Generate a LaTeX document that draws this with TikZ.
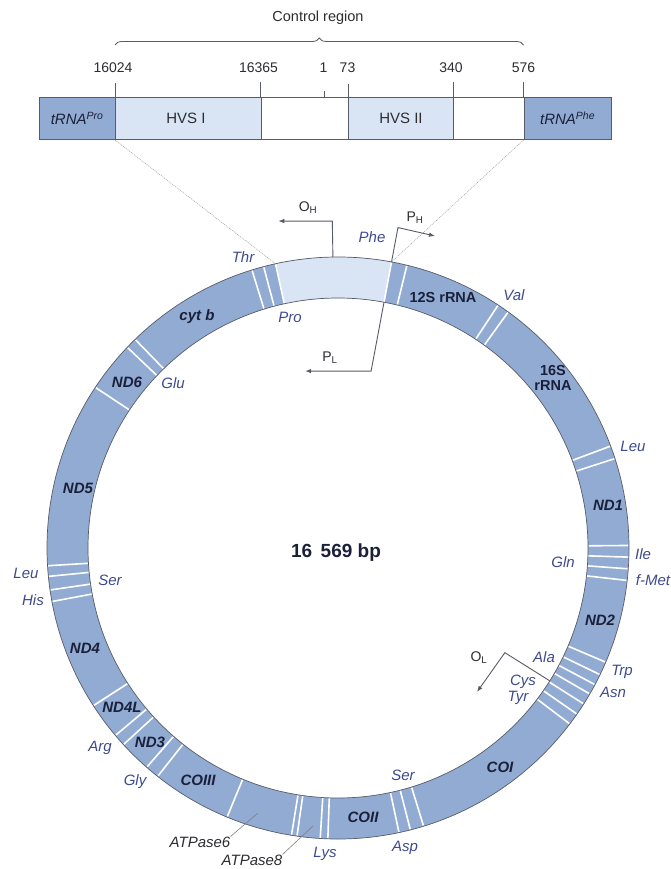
\documentclass[tikz,border=0pt]{standalone}
\usepackage{fontspec}
\setmainfont{Liberation Sans}
\usetikzlibrary{decorations.pathreplacing,arrows.meta,calc}
\definecolor{ringblue}{RGB}{146,171,211}
\definecolor{lightblue}{RGB}{217,229,245}
\definecolor{edgecol}{RGB}{88,92,104}
\definecolor{trnacol}{RGB}{62,74,142}
\definecolor{genecol}{RGB}{26,32,58}
\definecolor{txtcol}{RGB}{45,45,50}
\begin{document}
\begin{tikzpicture}[x=1pt,y=-1pt,
  trna/.style={font=\fontsize{15}{17}\selectfont\itshape, text=trnacol, inner sep=0pt},
  gene/.style={font=\fontsize{15}{17}\selectfont\bfseries\itshape, text=genecol, inner sep=0pt},
  rrna/.style={font=\fontsize{14.5}{16.5}\selectfont\bfseries, text=genecol, inner sep=0pt, align=center},
  plain/.style={font=\fontsize{14}{16}\selectfont, text=txtcol, inner sep=0pt},
  atp/.style={font=\fontsize{15}{17}\selectfont\itshape, text=txtcol, inner sep=0pt},
  segbox/.style={draw=edgecol, line width=0.7pt, anchor=north west, inner sep=0pt, minimum height=42.6pt},
  boxlabel/.style={font=\fontsize{15}{17}\selectfont, text=txtcol, inner sep=0pt},
  tick/.style={draw=edgecol, line width=0.7pt},
  conn/.style={draw=edgecol, line width=0.9pt},
  arr/.style={conn, -{Latex[length=6pt,width=4.5pt]}},
  zoomline/.style={draw=gray!80, line width=0.5pt, dash pattern=on 1pt off 1pt},
  pointer/.style={draw=gray, line width=0.6pt},
  sitelabel/.style={font=\fontsize{14}{16}\selectfont, text=txtcol, inner sep=0pt}
]
\useasboundingbox (0,0) rectangle (671,869);
\fill[white] (0,0) rectangle (671,869);

% ---------- linear map of the control region ----------
\node[plain, font=\fontsize{14.5}{16}\selectfont] (ctrl) at (318,18) {Control region};
\coordinate (brL) at (115,45);
\coordinate (brR) at (523.5,45);
\draw[edgecol, line width=0.8pt, decorate, decoration={brace, amplitude=7pt}] (brL) -- (brR);

\node[segbox, fill=ringblue, minimum width=76.5pt] (pro) at (38.5,96.7) {};
\node[segbox, fill=lightblue, minimum width=145.7pt] (hvs1) at (115,96.7) {};
\node[segbox, fill=white, minimum width=87.6pt] (gap1) at (260.7,96.7) {};
\node[segbox, fill=lightblue, minimum width=104.7pt] (hvs2) at (348.3,96.7) {};
\node[segbox, fill=white, minimum width=70.5pt] (gap2) at (453,96.7) {};
\node[segbox, fill=ringblue, minimum width=87.5pt] (phe) at (523.5,96.7) {};

\node[boxlabel, font=\fontsize{15}{17}\selectfont\itshape, text=genecol] (proT) at (pro.center) {tRNA\textsuperscript{Pro}};
\node[boxlabel] (hvs1T) at (186,118) {HVS I};
\node[boxlabel] (hvs2T) at (401,118) {HVS II};
\node[boxlabel, font=\fontsize{15}{17}\selectfont\itshape, text=genecol] (pheT) at (phe.center) {tRNA\textsuperscript{Phe}};

\node[sitelabel] (n16024) at (113,68) {16024};
\node[sitelabel] (n16365) at (258.5,68) {16365};
\node[sitelabel] (n1) at (323.5,68) {1};
\node[sitelabel] (n73) at (347.5,68) {73};
\node[sitelabel] (n340) at (451,68) {340};
\node[sitelabel] (n576) at (523.5,68) {576};
\draw[tick] (115,83) -- (hvs1.north west);
\draw[tick] (260.7,82) -- (gap1.north west);
\draw[tick] (324.8,91.5) -- (324.8,96.7);
\draw[tick] (348.3,84.5) -- (hvs2.north west);
\draw[tick] (453,82) -- (gap2.north west);
\draw[tick] (523.5,82) -- (phe.north west);

% ---------- circular genome ----------
\coordinate (C) at (338,548);
\fill[ringblue, even odd rule] (C) circle[radius=291] (C) circle[radius=250];
\fill[lightblue] plot[domain=-102.4:-79.4, samples=30] ({338+291*cos(\x)},{548+291*sin(\x)})
  -- plot[domain=-79.4:-102.4, samples=30] ({338+250*cos(\x)},{548+250*sin(\x)}) -- cycle;
\foreach \t in {-107.2,-104.8,-102.4,-79.4,-76.3,-56.6,-54.2,-20.5,-17.9,-0.5,1.8,4.1,6.4,
  23.1,25.8,28.0,30.1,32.4,34.8,37.2,72.9,75.6,77.9,92.0,93.5,98.1,99.2,112.4,128.3,131.1,
  137.5,139.9,147.2,169.4,171.7,174.4,176.5,213.5,223.6,225.8}
  \draw[white, line width=1.6pt] ($(C)+(\t:250.6)$) -- ($(C)+(\t:290.4)$);
\draw[edgecol, line width=0.7pt] (C) circle[radius=291];
\draw[edgecol, line width=0.7pt] (C) circle[radius=250];

% zoom lines
\coordinate (ringL) at ($(C)+(-102.4:291)$);
\coordinate (ringR) at ($(C)+(-79.4:291)$);
\draw[zoomline] (hvs1.south west) -- (ringL);
\draw[zoomline] (phe.south west) -- (ringR);

% origins and promoters
\coordinate (oh0) at ($(C)+(-91:291)$);
\coordinate (oh1) at ($(C)+(-91:327)$);
\coordinate (oh2) at ($(oh1)+(-54,0)$);
\draw[arr] (oh0) -- (oh1) -- (oh2);
\node[sitelabel] (OH) at (308,208) {O\textsubscript{H}};

\coordinate (ph1) at ($(C)+(-79.4:326)$);
\coordinate (ph2) at (435,236);
\draw[arr] (ringR) -- (ph1) -- (ph2);
\node[sitelabel] (PH) at (415,218) {P\textsubscript{H}};

\coordinate (pl0) at ($(C)+(-79.4:250)$);
\coordinate (pl1) at ($(C)+(-79.4:180)$);
\coordinate (pl2) at ($(pl1)+(-66,0)$);
\draw[arr] (pl0) -- (pl1) -- (pl2);
\node[sitelabel] (PL) at (330,358) {P\textsubscript{L}};

\coordinate (ol0) at ($(C)+(32.1:250)$);
\coordinate (ol1) at ($(C)+(32.1:197)$);
\coordinate (ol2) at (477,692);
\draw[arr] (ol0) -- (ol1) -- (ol2);
\node[sitelabel] (OL) at (479,658) {O\textsubscript{L}};

% centre
\node[font=\fontsize{19}{21}\selectfont\bfseries, text=genecol, inner sep=0pt] (size) at (336,553) {16\hspace{0.45em}569 bp};

% gene labels
\node[gene] (cytb) at (197,317) {cyt b};
\node[gene] (nd6) at (127,382) {ND6};
\node[gene] (nd5) at (78,488) {ND5};
\node[gene] (nd4) at (85,648) {ND4};
\node[gene] (nd4l) at (122,707) {ND4L};
\node[gene] (nd3) at (150,742) {ND3};
\node[gene] (co3) at (198,780) {COIII};
\node[gene] (co2) at (363,817) {COII};
\node[gene] (co1) at (500,767) {COI};
\node[gene] (nd2) at (600,620) {ND2};
\node[gene] (nd1) at (608,505) {ND1};
\node[rrna] (r12) at (443,298) {12S rRNA};
\node[rrna] (r16) at (553,378) {16S\\[-1pt]rRNA};

% tRNA labels
\node[trna] (tThr) at (243,257) {Thr};
\node[trna] (tPro) at (290,317) {Pro};
\node[trna] (tPhe) at (372,237) {Phe};
\node[trna] (tVal) at (514,295) {Val};
\node[trna] (tGlu) at (173,383) {Glu};
\node[trna] (tLeuR) at (633,446) {Leu};
\node[trna] (tIle) at (643,554) {Ile};
\node[trna] (tGln) at (563,562) {Gln};
\node[trna] (tMet) at (653,580) {f-Met};
\node[trna] (tAla) at (544,657) {Ala};
\node[trna] (tTrp) at (622,672) {Trp};
\node[trna] (tAsn) at (613,692) {Asn};
\node[trna] (tCys) at (523,682) {Cys};
\node[trna] (tTyr) at (518,698) {Tyr};
\node[trna] (tSerB) at (403,775) {Ser};
\node[trna] (tAsp) at (405,848) {Asp};
\node[trna] (tLys) at (325,854) {Lys};
\node[trna] (tLeuL) at (26,573) {Leu};
\node[trna] (tHis) at (33,600) {His};
\node[trna] (tSerL) at (110,580) {Ser};
\node[trna] (tArg) at (100,748) {Arg};
\node[trna] (tGly) at (135,782) {Gly};

% ATPase pointers
\node[atp] (atp6) at (200,842) {ATPase6};
\coordinate (atp6p) at (258,813);
\draw[pointer] (atp6.north east) -- (atp6p);
\node[atp] (atp8) at (252,860) {ATPase8};
\coordinate (atp8p) at (313,826);
\draw[pointer] (atp8.north east) -- (atp8p);
\end{tikzpicture}
\end{document}
